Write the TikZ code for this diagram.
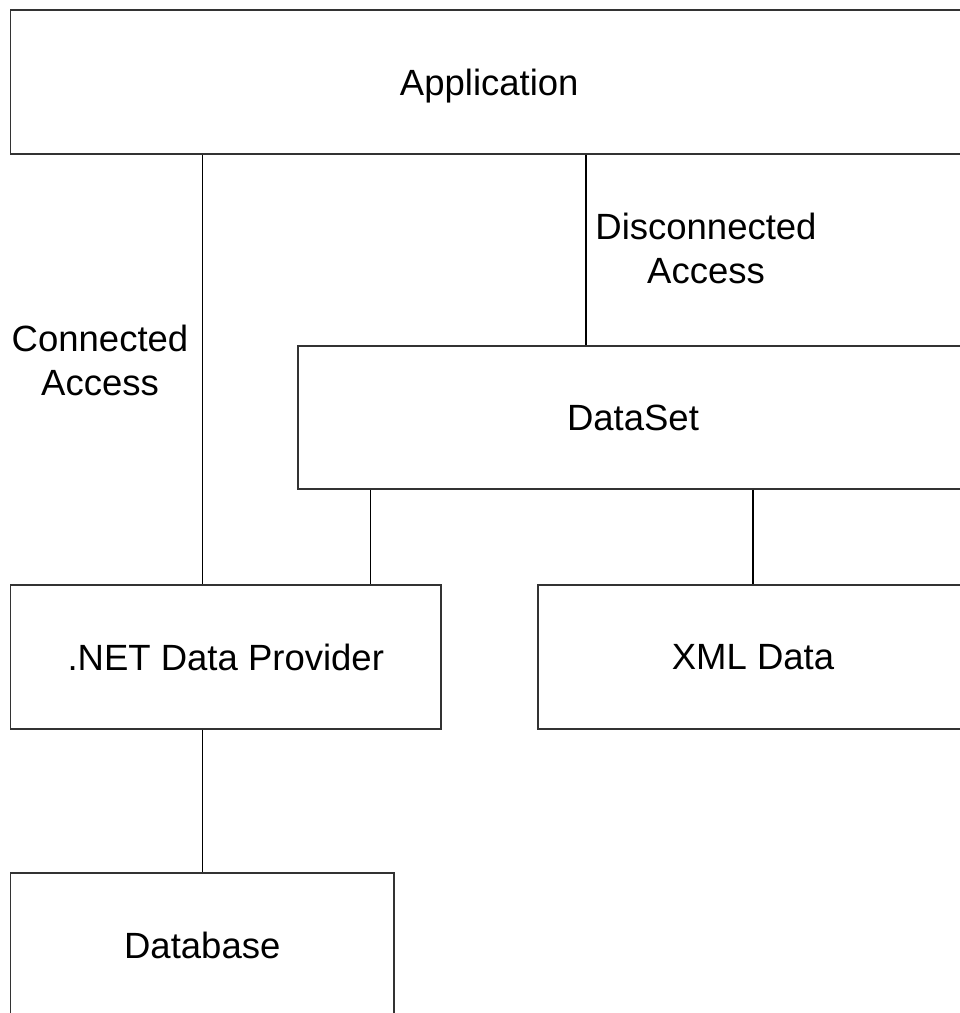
\documentclass[tikz,border=0pt]{standalone}
\usepackage{fontspec}
\setmainfont{Liberation Sans}
\begin{document}
\begin{tikzpicture}[x=1pt,y=-1pt,
  box/.style={draw=black!80,line width=1.3pt,rectangle,inner sep=0pt,font=\fontsize{36.5}{44}\selectfont},
  lbl/.style={inner sep=0pt,align=center,font=\fontsize{36.5}{44}\selectfont},
  conn/.style={draw=black,line width=1.2pt}]
\clip (0,0) rectangle (960,1013);
\fill[white] (0,0) rectangle (960,1013);
\node[box,text depth=0pt,minimum width=957.5pt,minimum height=144pt] (app) at (489.25,82) {Application};
\node[box,minimum width=670pt,minimum height=143pt] (ds) at (633,417.5) {DataSet};
\node[box,minimum width=430.5pt,minimum height=144pt] (net) at (225.75,657) {.NET Data Provider};
\node[box,minimum width=430pt,minimum height=144pt] (xml) at (753,657) {XML Data};
\node[box,minimum width=383.5pt,minimum height=144pt] (db) at (202.25,945) {Database};
\node[lbl] (cal) at (100,360) {Connected\\Access};
\node[lbl] (dal) at (706,248) {Disconnected\\Access};
\coordinate (ca) at (202.5,0);
\coordinate (da) at (586,0);
\coordinate (d1) at (370.5,0);
\coordinate (d2) at (753,0);
\draw[conn] (app.south -| ca) -- (net.north -| ca);
\draw[conn] (net.south -| ca) -- (db.north -| ca);
\draw[conn] (app.south -| da) -- (ds.north -| da);
\draw[conn] (ds.south -| d1) -- (net.north -| d1);
\draw[conn] (ds.south -| d2) -- (xml.north -| d2);
\end{tikzpicture}
\end{document}
